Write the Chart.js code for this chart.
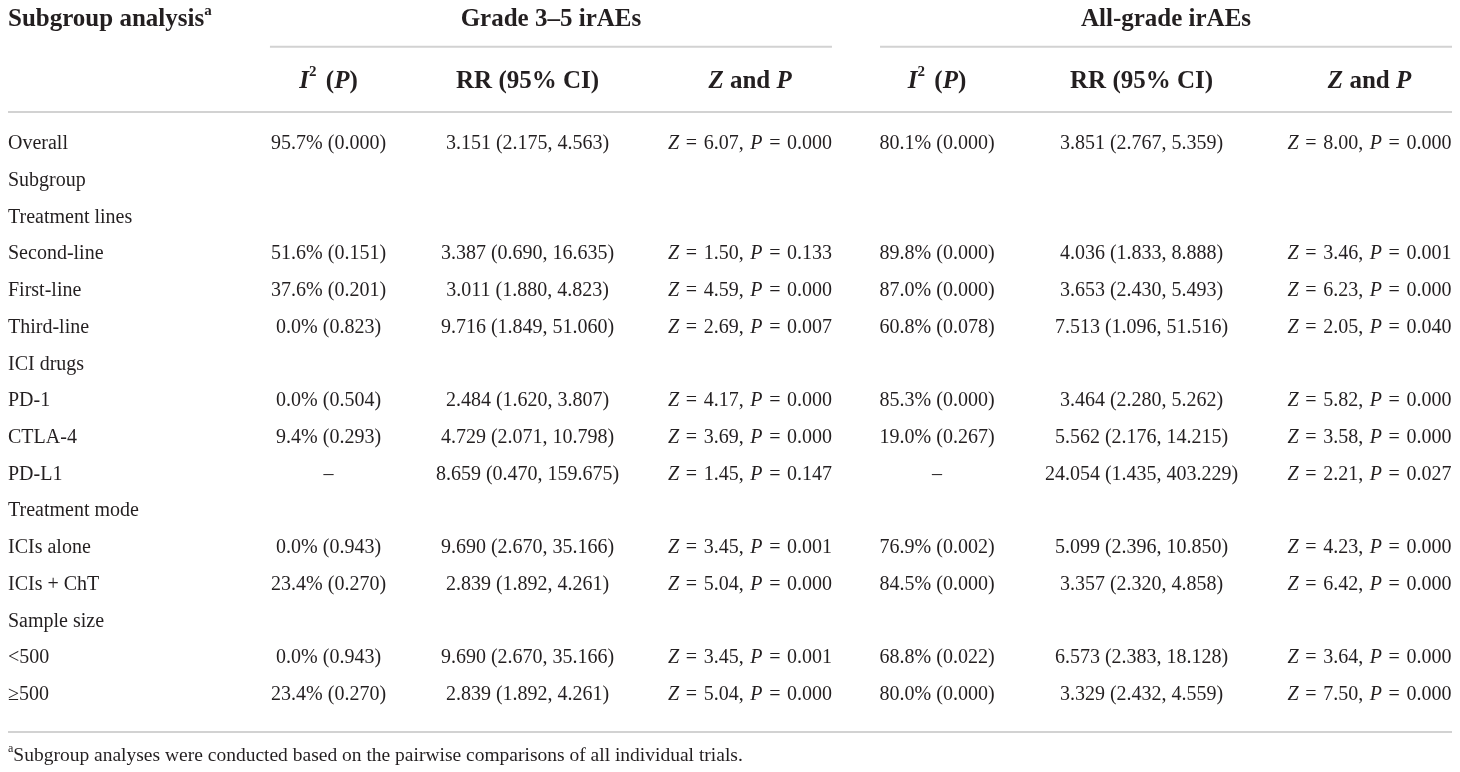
<!DOCTYPE html>
<html>
<head>
<meta charset="utf-8">
<script src="https://cdn.jsdelivr.net/npm/chart.js@4.4.0/dist/chart.umd.min.js"></script>
<style>
  html,body{margin:0;padding:0;background:#fff;}
  #wrap{width:1460px;height:772px;position:relative;}
</style>
</head>
<body>
<div id="wrap"><canvas id="tbl"></canvas></div>
<script>
// ---- table data ----
const ROW_LABELS = ['Overall','Subgroup','Treatment lines','Second-line','First-line','Third-line',
  'ICI drugs','PD-1','CTLA-4','PD-L1','Treatment mode','ICIs alone','ICIs + ChT','Sample size','<500','\u2265500'];

// Grade 3-5 irAEs (null = empty cell, '–' = not estimable)
const G35_I2   = [95.7,null,null,51.6,37.6,0.0,null,0.0,9.4,'\u2013',null,0.0,23.4,null,0.0,23.4];
const G35_I2P  = [0.000,null,null,0.151,0.201,0.823,null,0.504,0.293,null,null,0.943,0.270,null,0.943,0.270];
const G35_RR   = [3.151,null,null,3.387,3.011,9.716,null,2.484,4.729,8.659,null,9.690,2.839,null,9.690,2.839];
const G35_LO   = [2.175,null,null,0.690,1.880,1.849,null,1.620,2.071,0.470,null,2.670,1.892,null,2.670,1.892];
const G35_HI   = [4.563,null,null,16.635,4.823,51.060,null,3.807,10.798,159.675,null,35.166,4.261,null,35.166,4.261];
const G35_Z    = [6.07,null,null,1.50,4.59,2.69,null,4.17,3.69,1.45,null,3.45,5.04,null,3.45,5.04];
const G35_P    = [0.000,null,null,0.133,0.000,0.007,null,0.000,0.000,0.147,null,0.001,0.000,null,0.001,0.000];

// All-grade irAEs
const ALL_I2   = [80.1,null,null,89.8,87.0,60.8,null,85.3,19.0,'\u2013',null,76.9,84.5,null,68.8,80.0];
const ALL_I2P  = [0.000,null,null,0.000,0.000,0.078,null,0.000,0.267,null,null,0.002,0.000,null,0.022,0.000];
const ALL_RR   = [3.851,null,null,4.036,3.653,7.513,null,3.464,5.562,24.054,null,5.099,3.357,null,6.573,3.329];
const ALL_LO   = [2.767,null,null,1.833,2.430,1.096,null,2.280,2.176,1.435,null,2.396,2.320,null,2.383,2.432];
const ALL_HI   = [5.359,null,null,8.888,5.493,51.516,null,5.262,14.215,403.229,null,10.850,4.858,null,18.128,4.559];
const ALL_Z    = [8.00,null,null,3.46,6.23,2.05,null,5.82,3.58,2.21,null,4.23,6.42,null,3.64,7.50];
const ALL_P    = [0.000,null,null,0.001,0.000,0.040,null,0.000,0.000,0.027,null,0.000,0.000,null,0.000,0.000];

const GROUP_TITLES = ['Grade 3\u20135 irAEs','All-grade irAEs'];
const FOOTNOTE = 'Subgroup analyses were conducted based on the pairwise comparisons of all individual trials.';

// ---- layout (scale units: x 0..100 across the table, y = row index) ----
const COL_X = [0, 22.2, 35.98, 51.39, 64.34, 78.5, 94.29];
const GROUP_SPAN = [[18.14, 57.06], [60.39, 100]];
const Y_GROUP = -3.38, Y_GROUP_RULE = -2.65, Y_SUB = -1.70, Y_HEAD_RULE = -0.87, Y_BOTTOM_RULE = 16.01, Y_NOTE = 16.66;

const FONT = '"Liberation Serif", "DejaVu Serif", serif';
const INK = '#231f20';
const RULE = '#d2d2d2';
const BODY_SIZE = 20, HEAD_SIZE = 25, NOTE_SIZE = 19.5;

// rich text pieces: {t, i (italic), b (bold), sup, ws (extra px per space)}
function seg(t, o){ return Object.assign({t:t}, o||{}); }
function i2Cell(v, p){
  if (v === null) return null;
  if (typeof v === 'string') return [seg(v)];
  return [seg(v.toFixed(1) + '% (' + p.toFixed(3) + ')')];
}
function rrCell(r, lo, hi){
  if (r === null) return null;
  return [seg(r.toFixed(3) + ' (' + lo.toFixed(3) + ', ' + hi.toFixed(3) + ')')];
}
function zCell(z, p){
  if (z === null) return null;
  return [seg('Z',{i:1}), seg(' = ' + z.toFixed(2) + ', ',{ws:1.6}), seg('P',{i:1}), seg(' = ' + p.toFixed(3),{ws:1.6})];
}

const COLUMNS = [
  ROW_LABELS.map(l => [seg(l)]),
  G35_I2.map((v,k) => i2Cell(v, G35_I2P[k])),
  G35_RR.map((v,k) => rrCell(v, G35_LO[k], G35_HI[k])),
  G35_Z.map((v,k) => zCell(v, G35_P[k])),
  ALL_I2.map((v,k) => i2Cell(v, ALL_I2P[k])),
  ALL_RR.map((v,k) => rrCell(v, ALL_LO[k], ALL_HI[k])),
  ALL_Z.map((v,k) => zCell(v, ALL_P[k]))
];

const SUB_HEADS = [
  [seg('Subgroup analysis',{b:1}), seg('a',{b:1,sup:1})],
  [seg('I',{b:1,i:1}), seg('2',{b:1,sup:1}), seg(' (',{b:1,ws:3}), seg('P',{b:1,i:1}), seg(')',{b:1})],
  [seg('RR (95% CI)',{b:1})],
  [seg('Z',{b:1,i:1}), seg(' and ',{b:1}), seg('P',{b:1,i:1})]
];
const HEAD_CELLS = [SUB_HEADS[1],SUB_HEADS[2],SUB_HEADS[3],SUB_HEADS[1],SUB_HEADS[2],SUB_HEADS[3]];

// ---- datasets ----
const datasets = [];
function ruleSet(x0, x1, y){
  datasets.push({type:'line', data:[{x:x0,y:y},{x:x1,y:y}], borderColor:RULE, borderWidth:2,
    pointRadius:0, clip:false, kind:'rule'});
}
ruleSet(GROUP_SPAN[0][0], GROUP_SPAN[0][1], Y_GROUP_RULE);
ruleSet(GROUP_SPAN[1][0], GROUP_SPAN[1][1], Y_GROUP_RULE);
ruleSet(0, 100, Y_HEAD_RULE);
ruleSet(0, 100, Y_BOTTOM_RULE);

// body cells
COLUMNS.forEach((col, c) => {
  const pts = [], cells = [];
  col.forEach((cell, r) => { if (cell) { pts.push({x:COL_X[c], y:r}); cells.push(cell); } });
  datasets.push({type:'scatter', data:pts, pointRadius:0, kind:'text', cells:cells,
    align: c === 0 ? 'left' : 'center', size:BODY_SIZE});
});
// header cells
datasets.push({type:'scatter', data:[{x:COL_X[0], y:Y_GROUP}], pointRadius:0, kind:'text',
  cells:[SUB_HEADS[0]], align:'left', size:HEAD_SIZE});
datasets.push({type:'scatter', data:GROUP_SPAN.map(s => ({x:(s[0]+s[1])/2, y:Y_GROUP})), pointRadius:0, kind:'text',
  cells:GROUP_TITLES.map(t => [seg(t,{b:1})]), align:'center', size:HEAD_SIZE});
datasets.push({type:'scatter', data:HEAD_CELLS.map((h,k) => ({x:COL_X[k+1], y:Y_SUB})), pointRadius:0, kind:'text',
  cells:HEAD_CELLS, align:'center', size:HEAD_SIZE});
datasets.push({type:'scatter', data:[{x:0, y:Y_NOTE}], pointRadius:0, kind:'text',
  cells:[[seg('a',{sup:1}), seg(FOOTNOTE)]], align:'left', size:NOTE_SIZE});

function fontFor(s, size){
  const sz = s.sup ? Math.round(size*0.6) : size;
  return (s.i ? 'italic ' : '') + (s.b ? 'bold ' : '') + sz + 'px ' + FONT;
}
function segWidth(ctx, s){
  const spaces = s.ws ? (s.t.match(/ /g) || []).length : 0;
  return ctx.measureText(s.t).width + spaces * (s.ws || 0);
}
function drawRich(ctx, parts, x, y, align, size){
  let w = 0;
  parts.forEach(s => { ctx.font = fontFor(s, size); w += segWidth(ctx, s); });
  let cx = align === 'left' ? x : x - w/2;
  parts.forEach(s => {
    ctx.font = fontFor(s, size);
    const yy = s.sup ? y - size*0.36 : y;
    if (s.ws) {
      // draw word by word so the extra space width lands between words
      s.t.split(/( )/).forEach(piece => {
        if (piece === '') return;
        if (piece !== ' ') ctx.fillText(piece, cx, yy);
        cx += ctx.measureText(piece).width + (piece === ' ' ? s.ws : 0);
      });
    } else {
      ctx.fillText(s.t, cx, yy);
      cx += ctx.measureText(s.t).width;
    }
  });
}

const cellText = {
  id:'cellText',
  afterDatasetsDraw(chart){
    const ctx = chart.ctx;
    ctx.save();
    ctx.fillStyle = INK;
    ctx.textBaseline = 'middle';
    ctx.textAlign = 'left';
    chart.data.datasets.forEach((ds, i) => {
      if (ds.kind !== 'text') return;
      chart.getDatasetMeta(i).data.forEach((pt, k) => {
        drawRich(ctx, ds.cells[k], pt.x, pt.y, ds.align, ds.size);
      });
    });
    ctx.restore();
  }
};

new Chart(document.getElementById('tbl'), {
  type:'scatter',
  data:{datasets:datasets},
  options:{
    responsive:true, maintainAspectRatio:false, animation:false,
    layout:{padding:{left:8, right:8, top:0, bottom:0}},
    plugins:{legend:{display:false}, tooltip:{enabled:false}},
    events:[],
    scales:{
      x:{type:'linear', min:0, max:100, display:false},
      y:{type:'linear', min:-3.92, max:17.1, reverse:true, display:false}
    }
  },
  plugins:[cellText]
});
</script>
</body>
</html>
